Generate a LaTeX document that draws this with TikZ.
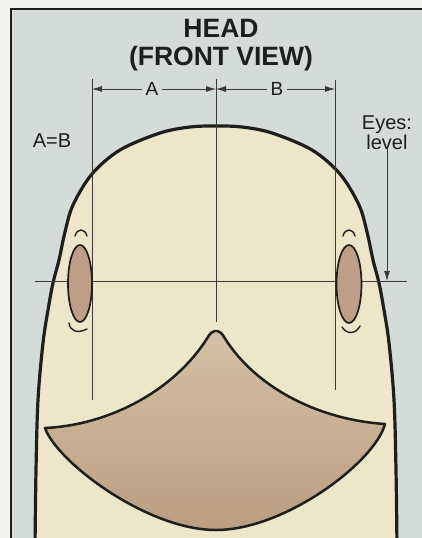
\documentclass[tikz,border=0pt]{standalone}
\usepackage{fontspec}
\setmainfont{Liberation Sans}
\usetikzlibrary{arrows.meta}

\definecolor{paper}{HTML}{F3F3EF}
\definecolor{panel}{HTML}{D5DBD9}
\definecolor{skin}{HTML}{EDE6CA}
\definecolor{beaktop}{HTML}{D3C1A6}
\definecolor{beakbot}{HTML}{BC9D81}
\definecolor{eyefill}{HTML}{BE9E88}
\definecolor{ink}{HTML}{1E1E1C}
\definecolor{guide}{HTML}{3A3934}

\tikzset{
  guideline/.style={draw=guide, line width=0.9pt},
  dimarrow/.style={guideline, -{Latex[length=10pt,width=6pt]}},
  outline/.style={draw=ink, line width=3.2pt, line join=round},
  beakline/.style={draw=ink, line width=2.5pt, line join=round},
  eyeline/.style={draw=ink, line width=1.7pt},
  browline/.style={draw=ink, line width=1.4pt, line cap=round},
  titletext/.style={font=\bfseries\fontsize{26.5}{28}\selectfont, text=ink, inner sep=0pt},
  labeltext/.style={font=\fontsize{20}{17}\selectfont, text=ink, inner sep=0pt},
  dimtext/.style={font=\fontsize{19}{19}\selectfont, text=ink, inner sep=3pt}
}

\begin{document}
\begin{tikzpicture}[x=1pt,y=-1pt]
\useasboundingbox (0,0) rectangle (422,538);

% sheet and framed panel
\fill[paper] (0,0) rectangle (422,538);
\fill[panel] (11,9) rectangle (422,538);
\draw[ink, line width=2pt] (11,540) -- (11,9) -- (424,9);

% head silhouette
\begin{scope}
  \clip (0,0) rectangle (422,538);
  \path[fill=skin, outline] plot[smooth, tension=0.55] coordinates {
    (35,548) (36,470) (38,400) (43,343) (48,310) (53,283) (59,260)
    (65,232) (73,205) (92,174) (120,150) (160,133) (190,127) (216,126)
    (242,127) (272,133) (312,150) (340,174) (359,205) (367,232)
    (373,260) (379,283) (384,310) (389,343) (394,400) (396,470) (397,548)};
\end{scope}

% guide coordinates
\coordinate (lt) at (92,79);
\coordinate (lb) at (92,400);
\coordinate (ct) at (216,79);
\coordinate (cb) at (216,322);
\coordinate (rt) at (335,80);
\coordinate (rb) at (335,390);
\coordinate (el) at (35,281);
\coordinate (er) at (407,281);

% vertical and horizontal guides
\draw[guideline] (lt) -- (lb);
\draw[guideline] (ct) -- (cb);
\draw[guideline] (rt) -- (rb);
\draw[guideline] (el) -- (er);

% eyes
\path[fill=eyefill, eyeline] (80,283.5) ellipse [x radius=12, y radius=38.5];
\path[fill=eyefill, eyeline] (349,284) ellipse [x radius=12.5, y radius=39];

% brows above and lids below the eyes
\draw[browline] (75,236) .. controls (77,228) and (85,228) .. (87,236);
\draw[browline] (343,236) .. controls (345,228) and (353,228) .. (355,236);
\draw[browline] (69,323) .. controls (70,331) and (77,334) .. (87,329);
\draw[browline] (342,327) .. controls (347,335) and (356,334) .. (360,326);

% beak
\path[top color=beaktop, bottom color=beakbot, beakline]
  (45,428) .. controls (110,425) and (175,390) .. (208,337)
  .. controls (212,329) and (220,329) .. (224,337)
  .. controls (257,390) and (322,420) .. (385,424)
  .. controls (375,462) and (285,530) .. (216,530)
  .. controls (147,530) and (57,462) .. (45,428) -- cycle;

% title
\node[titletext, anchor=base] (head) at (221,37) {HEAD};
\node[titletext, anchor=base] (view) at (221,65) {(FRONT VIEW)};

% width dimensions
\node[dimtext] (dA) at (152,89) {A};
\node[dimtext] (dB) at (277,89) {B};
\draw[dimarrow] (dA.west) -- (dA.west -| lt);
\draw[dimarrow] (dA.east) -- (dA.east -| ct);
\draw[dimarrow] (dB.west) -- (dB.west -| ct);
\draw[dimarrow] (dB.east) -- (dB.east -| rt);

% side labels
\node[labeltext] (eq) at (52,141) {A=B};
\node[labeltext, align=center, anchor=north] (eyes) at (387,116) {Eyes:\\level};
\draw[dimarrow] ([yshift=2pt]eyes.south) -- (eyes.south |- el);
\end{tikzpicture}
\end{document}
